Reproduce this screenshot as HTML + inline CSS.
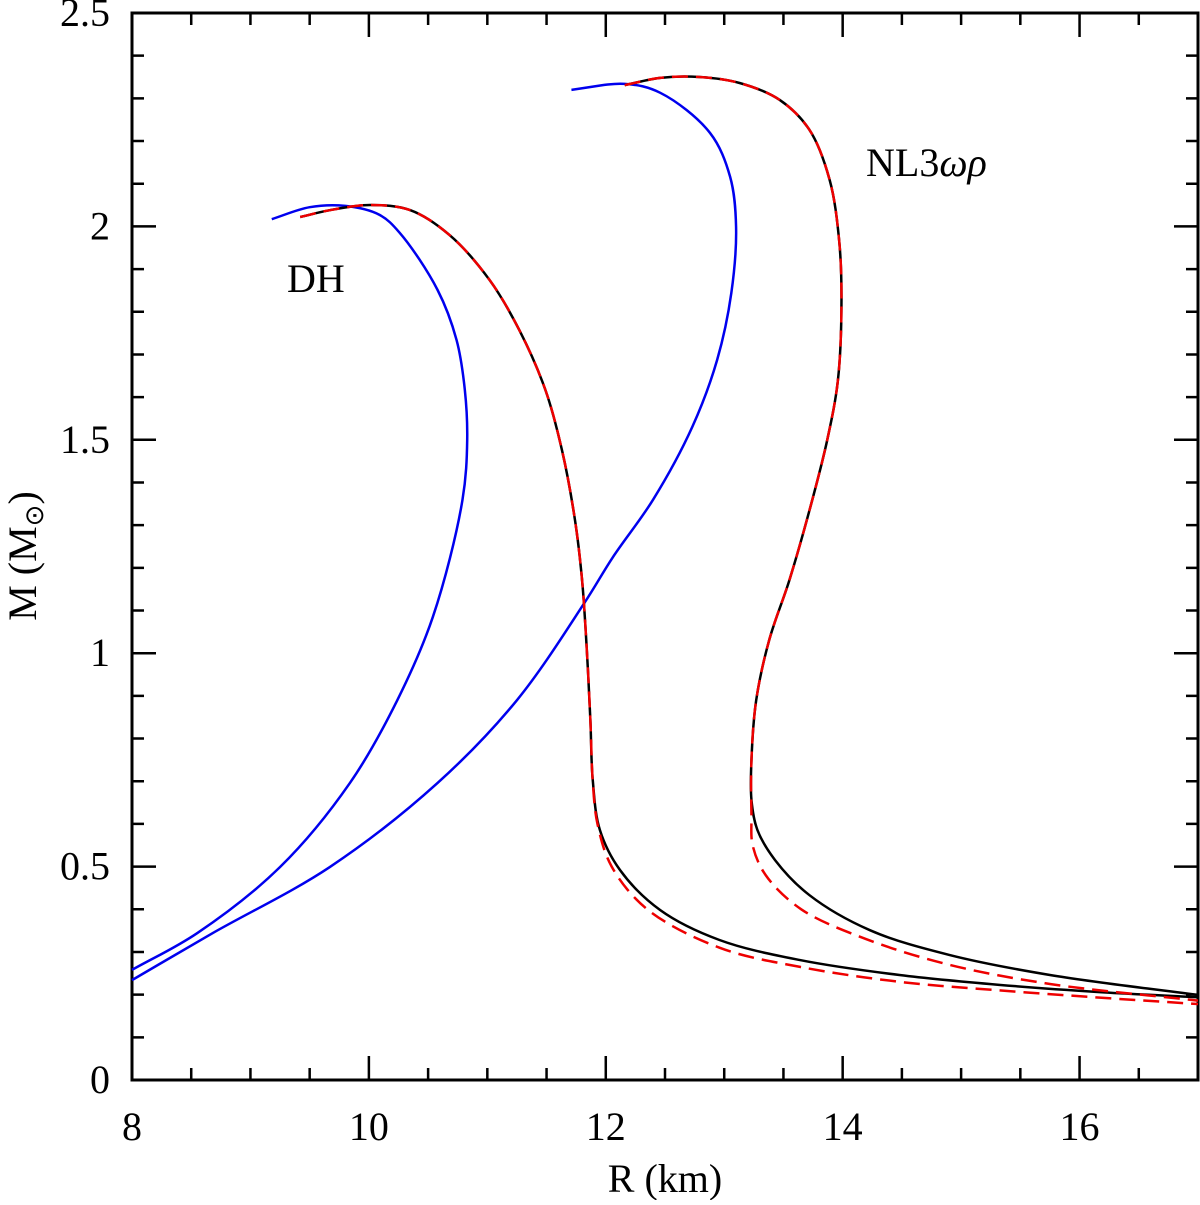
<!DOCTYPE html>
<html><head><meta charset="utf-8"><style>
body{margin:0;background:#fff}
svg text{font-family:"Liberation Serif",serif;font-size:40px;fill:#000}
</style></head><body>
<svg id="chart" width="1200" height="1200" xmlns="http://www.w3.org/2000/svg">
<g id="axes"></g>
<g id="curves"></g>
<text x="665" y="1192" text-anchor="middle">R (km)</text>
<text transform="translate(36,556) rotate(-90)" text-anchor="middle">M (M<tspan font-size="26" dy="7">⊙</tspan><tspan dy="-7">)</tspan></text>
<text x="287" y="292">DH</text>
<text x="866" y="176">NL3<tspan font-style="italic">ωρ</tspan></text>
</svg>
<script>
const xTicks=[8,10,12,14,16];
const yTicks=[0,0.5,1,1.5,2,2.5];
const yTickLabels=["0","0.5","1","1.5","2","2.5"];
const dhBlueR=[9.18,9.50,9.80,10.09,10.26,10.58,10.74,10.81,10.83,10.79,10.54,10.24,9.84,9.25,8.55,8.0];
const dhBlueM=[2.017,2.045,2.048,2.027,1.985,1.851,1.734,1.617,1.500,1.359,1.085,0.890,0.696,0.499,0.344,0.258];
const nlBlueR=[11.71,12.16,12.46,12.88,13.05,13.10,13.06,12.94,12.73,12.40,12.06,11.82,11.25,10.58,9.67,8.68,8.0];
const nlBlueM=[2.320,2.334,2.313,2.219,2.116,1.999,1.844,1.687,1.530,1.360,1.225,1.118,0.890,0.696,0.499,0.344,0.234];
const dhBlackR=[9.42,9.67,10.01,10.35,10.68,11.02,11.27,11.49,11.63,11.74,11.80,11.84,11.87,11.89,11.95,12.12,12.46,12.96,13.64,14.48,15.32,16.17,17];
const dhBlackM=[2.022,2.038,2.050,2.038,1.980,1.874,1.757,1.617,1.476,1.312,1.171,1.007,0.843,0.703,0.586,0.492,0.398,0.328,0.281,0.246,0.223,0.206,0.194];
const dhRedR=[9.42,9.67,10.01,10.35,10.68,11.02,11.27,11.49,11.63,11.74,11.80,11.84,11.87,11.89,11.93,12.05,12.35,12.96,13.64,14.48,15.32,16.17,17];
const dhRedM=[2.022,2.038,2.050,2.038,1.980,1.874,1.757,1.617,1.476,1.312,1.171,1.007,0.843,0.70,0.60,0.50,0.40,0.31,0.265,0.23,0.21,0.193,0.178];
const nlBlackR=[12.16,12.46,12.79,13.13,13.47,13.72,13.89,13.97,13.99,13.96,13.87,13.72,13.55,13.38,13.27,13.23,13.23,13.28,13.43,13.72,14.23,14.90,15.75,17];
const nlBlackM=[2.331,2.348,2.350,2.336,2.296,2.226,2.109,1.968,1.828,1.640,1.500,1.335,1.171,1.031,0.890,0.750,0.656,0.586,0.515,0.433,0.351,0.293,0.246,0.199];
const nlRedR=[12.16,12.46,12.79,13.13,13.47,13.72,13.89,13.97,13.99,13.96,13.87,13.72,13.55,13.38,13.27,13.23,13.23,13.24,13.35,13.65,14.2,14.9,15.75,17];
const nlRedM=[2.331,2.348,2.350,2.336,2.296,2.226,2.109,1.968,1.828,1.640,1.500,1.335,1.171,1.031,0.890,0.750,0.62,0.55,0.48,0.40,0.33,0.27,0.225,0.186];

const X0=132,X1=1198,Y0=1080,Y1=13,RMIN=8,RMAX=17,MMIN=0,MMAX=2.5;
const xs=r=>X0+(r-RMIN)/(RMAX-RMIN)*(X1-X0);
const ys=m=>Y0-(m-MMIN)/(MMAX-MMIN)*(Y0-Y1);
const NS="http://www.w3.org/2000/svg";
const axes=document.getElementById('axes'),curves=document.getElementById('curves');
function mk(tag,attrs,parent){const e=document.createElementNS(NS,tag);for(const k in attrs)e.setAttribute(k,attrs[k]);parent.appendChild(e);return e;}
const frame=mk('rect',{x:X0,y:Y1,width:X1-X0,height:Y0-Y1,fill:'none',stroke:'#000','stroke-width':3},axes);


let d='';
for(let r=RMIN;r<=RMAX+1e-6;r+=0.5){const x=xs(r);const maj=Math.abs(r%2)<1e-6;const L=maj?24:12;d+=`M${x},${Y0}v${-L}M${x},${Y1}v${L}`;}
for(let i=0;i<=25;i++){const m=i/10;const y=ys(m);const maj=i%5===0;const L=maj?24:12;d+=`M${X0},${y}h${L}M${X1},${y}h${-L}`;}
const tk=mk('path',{d:d,stroke:'#000','stroke-width':2.5,fill:'none'},axes);


xTicks.forEach(v=>{const t=mk('text',{x:xs(v),y:1140,'text-anchor':'middle'},axes);t.textContent=v;

});
yTicks.forEach((v,i)=>{const t=mk('text',{x:110,y:ys(v)+13,'text-anchor':'end'},axes);t.textContent=yTickLabels[i];

});
function line(R,M,color,dash,name){
  const pts=R.map((r,i)=>[xs(r),ys(M[i])]);
  let p=`M${pts[0][0]},${pts[0][1]}`;
  const dist=(a,b)=>Math.max(1e-3,Math.sqrt(Math.hypot(a[0]-b[0],a[1]-b[1])));
  for(let i=0;i<pts.length-1;i++){
    const p1=pts[i],p2=pts[i+1];
    const p0=pts[i-1]||[2*p1[0]-p2[0],2*p1[1]-p2[1]];
    const p3=pts[i+2]||[2*p2[0]-p1[0],2*p2[1]-p1[1]];
    const d1=dist(p0,p1),d2=dist(p1,p2),d3=dist(p2,p3);
    const c1=[0,1].map(k=>(d1*d1*p2[k]-d2*d2*p0[k]+(2*d1*d1+3*d1*d2+d2*d2)*p1[k])/(3*d1*(d1+d2)));
    const c2=[0,1].map(k=>(d3*d3*p1[k]-d2*d2*p3[k]+(2*d3*d3+3*d3*d2+d2*d2)*p2[k])/(3*d3*(d3+d2)));
    p+=`C${c1[0]},${c1[1]} ${c2[0]},${c2[1]} ${p2[0]},${p2[1]}`;}
  const e=mk('path',{d:p,stroke:color,'stroke-width':2.5,fill:'none'},curves);
  if(dash)e.setAttribute('stroke-dasharray',dash);
  
  
}
line(dhBlueR,dhBlueM,'#0000ee',null,'dh-blue-curve');
line(nlBlueR,nlBlueM,'#0000ee',null,'nl3wr-blue-curve');
line(dhBlackR,dhBlackM,'#000',null,'dh-black-curve');
line(nlBlackR,nlBlackM,'#000',null,'nl3wr-black-curve');
line(dhRedR,dhRedM,'#ee0000','16,8','dh-red-dashed-curve');
line(nlRedR,nlRedM,'#ee0000','16,8','nl3wr-red-dashed-curve');
</script>
</body></html>
